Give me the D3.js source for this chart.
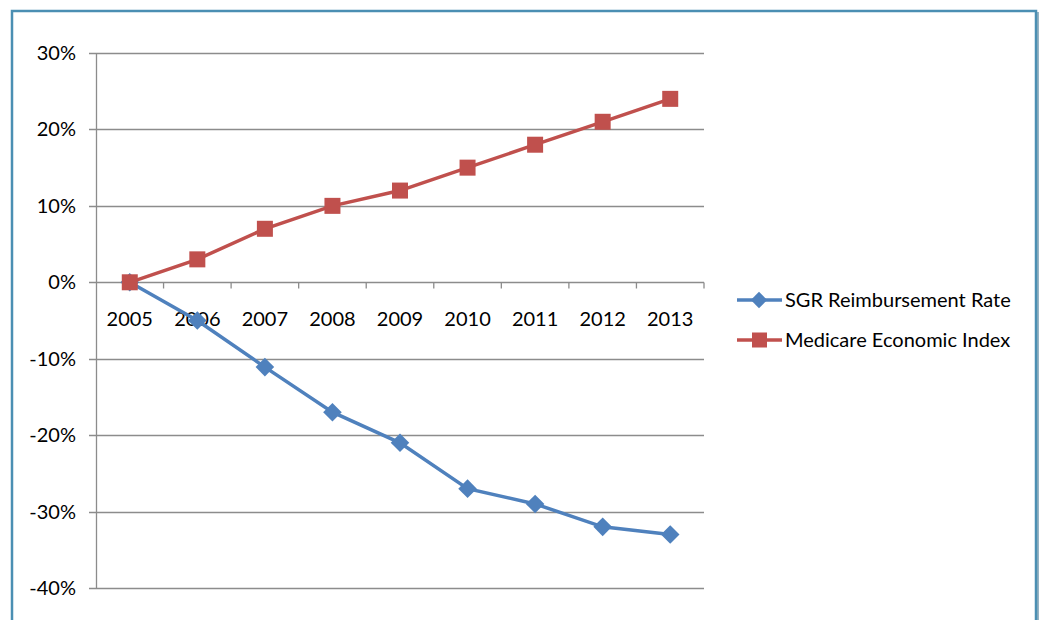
<!DOCTYPE html>
<html>
<head>
<meta charset="utf-8">
<script src="https://cdn.jsdelivr.net/npm/d3@7"></script>
<style>
  body { margin: 0; background: #fff; }
  text { font-family: Lato, "Open Sans", sans-serif; fill: #000; }
</style>
</head>
<body>
<div id="chart"></div>
<script>
const years = ['2005', '2006', '2007', '2008', '2009', '2010', '2011', '2012', '2013']
const sgrRate = [0, -5, -11.1, -17, -21, -27, -29, -32, -33]
const meiIndex = [0, 3, 7, 10, 12, 15, 18, 21, 24]
const yTicks = [30, 20, 10, 0, -10, -20, -30, -40]
const seriesNames = ['SGR Reimbursement Rate', 'Medicare Economic Index']

const W = 1040, H = 620
const plot = { left: 96, right: 704, top: 53, bottom: 588 }

const svg = d3.select('#chart').append('svg')
    .attr('width', W)
    .attr('height', H)

// outer frame
svg.append('path')
    .attr('d', `M12,${H} V11 H1036 V${H}`)
    .attr('fill', 'none')
    .attr('stroke', '#4b8fb3')
    .attr('stroke-width', 2.5)
svg.append('line')
    .attr('x1', 1038).attr('x2', 1038).attr('y1', 12).attr('y2', H)
    .attr('stroke', '#2f6b8a').attr('stroke-width', 1)

const x = d3.scaleBand().domain(years).range([plot.left, plot.right])
const y = d3.scaleLinear().domain([-40, 30]).range([plot.bottom, plot.top])

// gridlines
svg.append('g')
    .selectAll('line')
    .data(yTicks)
    .enter().append('line')
    .attr('x1', plot.left - 7)
    .attr('x2', plot.right)
    .attr('y1', d => Math.round(y(d)) + 0.5)
    .attr('y2', d => Math.round(y(d)) + 0.5)
    .attr('stroke', '#8c8c8c')
    .attr('stroke-width', 1.3)

// y axis
svg.append('line')
    .attr('x1', plot.left + 0.5).attr('x2', plot.left + 0.5)
    .attr('y1', plot.top).attr('y2', plot.bottom)
    .attr('stroke', '#8c8c8c').attr('stroke-width', 1.3)

svg.append('g')
    .selectAll('text')
    .data(yTicks)
    .enter().append('text')
    .attr('x', 76)
    .attr('y', d => y(d))
    .attr('dy', '0.35em')
    .attr('text-anchor', 'end')
    .style('font-size', '20px')
    .text(d => `${d}%`)

// category ticks on the 0% line
const zeroY = Math.round(y(0)) + 0.5
svg.append('g')
    .selectAll('line')
    .data(years)
    .enter().append('line')
    .attr('x1', (d, i) => plot.left + x.step() * (i + 1))
    .attr('x2', (d, i) => plot.left + x.step() * (i + 1))
    .attr('y1', zeroY)
    .attr('y2', zeroY + 6)
    .attr('stroke', '#8c8c8c').attr('stroke-width', 1.3)

svg.append('g')
    .selectAll('text')
    .data(years)
    .enter().append('text')
    .attr('x', d => x(d) + x.bandwidth() / 2)
    .attr('y', zeroY + 36)
    .attr('dy', '0.35em')
    .attr('text-anchor', 'middle')
    .style('font-size', '20px')
    .text(d => d)

const cx = d => x(d) + x.bandwidth() / 2
const line = d3.line().x(d => cx(d.year)).y(d => y(d.v))

const sgrPts = years.map((yr, i) => ({ year: yr, v: sgrRate[i] }))
const meiPts = years.map((yr, i) => ({ year: yr, v: meiIndex[i] }))

const blue = '#4f81bd', red = '#c0504d'
const diamond = d3.symbol().type(d3.symbolDiamond2).size(220)

svg.append('path')
    .datum(sgrPts)
    .attr('d', line)
    .attr('fill', 'none')
    .attr('stroke', blue)
    .attr('stroke-width', 3.5)
svg.selectAll('.dia')
    .data(sgrPts)
    .enter().append('path')
    .attr('class', 'dia')
    .attr('transform', d => `translate(${cx(d.year)},${y(d.v)})`)
    .attr('d', diamond)
    .attr('fill', blue)

svg.append('path')
    .datum(meiPts)
    .attr('d', line)
    .attr('fill', 'none')
    .attr('stroke', red)
    .attr('stroke-width', 3.5)
svg.selectAll('.sq')
    .data(meiPts)
    .enter().append('rect')
    .attr('class', 'sq')
    .attr('x', d => cx(d.year) - 8)
    .attr('y', d => y(d.v) - 8)
    .attr('width', 16)
    .attr('height', 16)
    .attr('fill', red)

// legend
const legend = svg.selectAll('.legend')
    .data(seriesNames)
    .enter().append('g')
    .attr('class', 'legend')
    .attr('transform', (d, i) => `translate(737,${300 + i * 40})`)

legend.append('line')
    .attr('x1', 0).attr('x2', 45)
    .attr('stroke', (d, i) => i ? red : blue)
    .attr('stroke-width', 3.5)

legend.each(function (d, i) {
    const g = d3.select(this)
    if (i === 0) {
        g.append('path')
            .attr('transform', 'translate(22,0)')
            .attr('d', d3.symbol().type(d3.symbolDiamond2).size(170))
            .attr('fill', blue)
    } else {
        g.append('rect')
            .attr('x', 15).attr('y', -7.5)
            .attr('width', 15).attr('height', 15)
            .attr('fill', red)
    }
})

legend.append('text')
    .attr('x', 48)
    .attr('dy', '0.35em')
    .style('font-size', '20px')
    .text(d => d)
</script>
</body>
</html>
